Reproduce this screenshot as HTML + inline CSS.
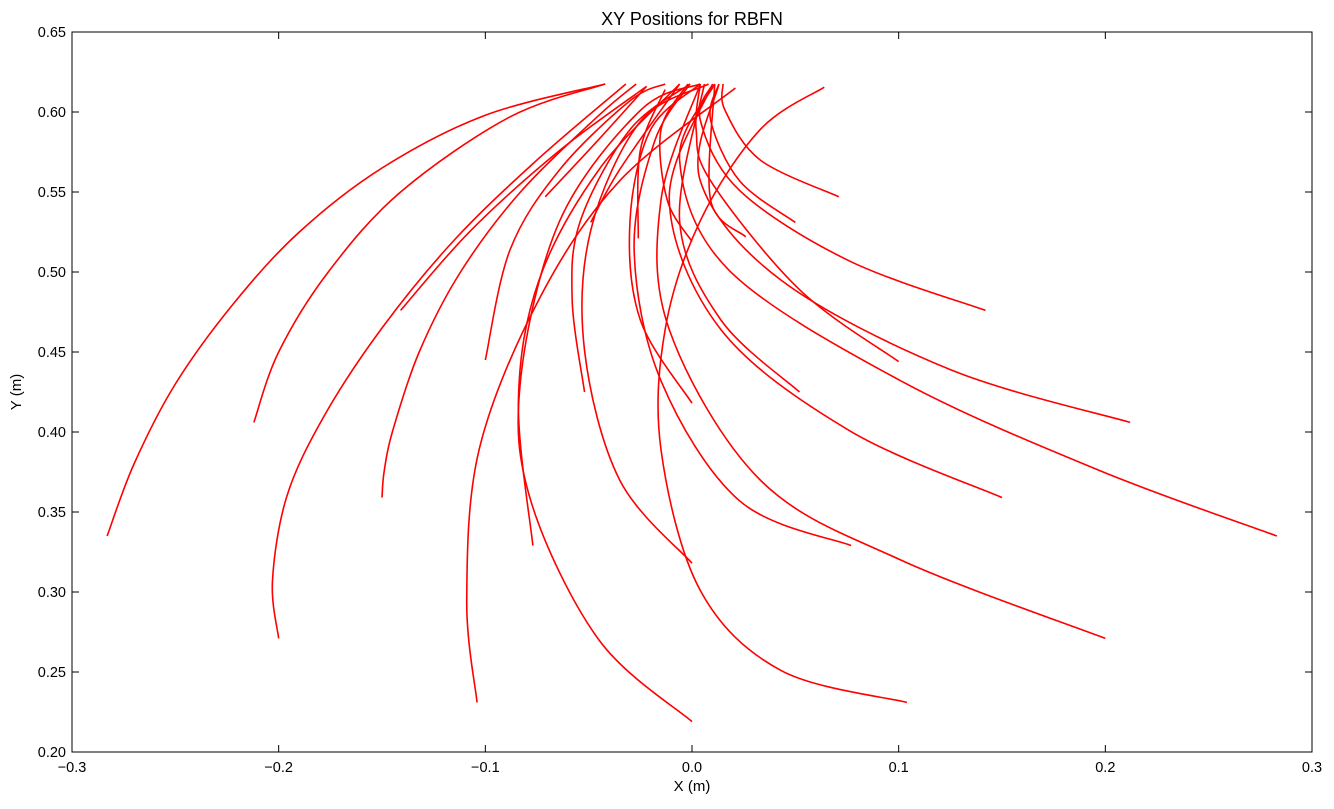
<!DOCTYPE html>
<html><head><meta charset="utf-8"><style>
body{margin:0;background:#fff;font-family:"Liberation Sans",sans-serif}
svg text{font-family:"Liberation Sans",sans-serif;fill:#000}
</style></head><body>
<svg id="chart" width="1334" height="804" xmlns="http://www.w3.org/2000/svg">
<text x="692" y="25" font-size="18" text-anchor="middle">XY Positions for RBFN</text>
<g id="lines"></g>
<rect x="72" y="32" width="1240" height="720" fill="none" stroke="#000" stroke-width="1"/>
<g id="axes"></g>
<text x="692" y="791" font-size="15" text-anchor="middle">X (m)</text>
<text transform="translate(21,392) rotate(-90)" font-size="15" text-anchor="middle">Y (m)</text>
</svg>
<script>
const xTicks=[-0.3,-0.2,-0.1,0.0,0.1,0.2,0.3];
const xTickLabels=["−0.3","−0.2","−0.1","0.0","0.1","0.2","0.3"];
const yTicks=[0.20,0.25,0.30,0.35,0.40,0.45,0.50,0.55,0.60,0.65];
const yTickLabels=["0.20","0.25","0.30","0.35","0.40","0.45","0.50","0.55","0.60","0.65"];
const traj1=[[-0.283,0.335],[-0.27,0.38],[-0.25,0.43],[-0.222,0.48],[-0.19,0.525],[-0.15,0.565],[-0.1,0.598],[-0.042,0.6175]];
const traj2=[[-0.212,0.406],[-0.2,0.45],[-0.176,0.5],[-0.141,0.55],[-0.088,0.597],[-0.042,0.6175]];
const traj3=[[-0.200,0.271],[-0.203,0.307],[-0.196,0.36],[-0.178,0.41],[-0.150,0.465],[-0.115,0.52],[-0.075,0.57],[-0.032,0.6175]];
const traj4=[[-0.150,0.359],[-0.149,0.375],[-0.145,0.40],[-0.132,0.45],[-0.112,0.5],[-0.083,0.55],[-0.045,0.598],[-0.027,0.6175]];
const traj5=[[-0.141,0.476],[-0.107,0.526],[-0.064,0.576],[-0.022,0.616]];
const traj6=[[-0.100,0.445],[-0.088,0.514],[-0.064,0.564],[-0.030,0.607],[-0.013,0.6175]];
const traj7=[[-0.071,0.547],[-0.045,0.583],[-0.022,0.616]];
const traj8=[[-0.104,0.231],[-0.109,0.295],[-0.103,0.389],[-0.074,0.483],[-0.035,0.557],[0.021,0.615]];
const traj9=[[-0.077,0.329],[-0.084,0.420],[-0.074,0.495],[-0.045,0.564],[-0.006,0.6175]];
const traj10=[[0.000,0.219],[-0.045,0.270],[-0.078,0.357],[-0.083,0.432],[-0.064,0.532],[-0.025,0.601],[0.004,0.6175]];
const traj11=[[-0.052,0.425],[-0.058,0.483],[-0.054,0.532],[-0.030,0.589],[-0.001,0.6175]];
const traj12=[[0.000,0.318],[-0.035,0.370],[-0.052,0.451],[-0.049,0.526],[-0.025,0.594],[0.008,0.6175]];
const traj13=[[-0.049,0.531],[-0.035,0.564],[-0.006,0.6175]];
const traj14=[[0.000,0.418],[-0.025,0.470],[-0.030,0.532],[-0.020,0.589],[0.004,0.6175]];
const traj15=[[0.000,0.519],[-0.012,0.545],[-0.015,0.589],[-0.002,0.6175]];
const traj16=[[-0.026,0.521],[-0.025,0.576],[-0.013,0.614]];
const traj17=[[0.077,0.329],[0.023,0.357],[-0.015,0.432],[-0.028,0.514],[-0.018,0.582],[-0.001,0.6175]];
const traj18=[[0.104,0.231],[0.043,0.251],[0.004,0.301],[-0.015,0.389],[-0.013,0.464],[0.004,0.532],[0.033,0.589],[0.064,0.6155]];
const traj19=[[0.200,0.271],[0.101,0.320],[0.033,0.370],[-0.011,0.464],[-0.015,0.545],[0.004,0.6175]];
const traj20=[[0.150,0.359],[0.076,0.401],[0.014,0.464],[-0.011,0.545],[0.010,0.6175]];
const traj21=[[0.283,0.335],[0.197,0.376],[0.101,0.432],[0.018,0.501],[-0.006,0.570],[0.011,0.6175]];
const traj22=[[0.212,0.406],[0.125,0.439],[0.043,0.495],[0.004,0.557],[0.013,0.6175]];
const traj23=[[0.052,0.425],[0.014,0.470],[-0.006,0.532],[0.006,0.6175]];
const traj24=[[0.100,0.444],[0.052,0.489],[0.009,0.557],[0.002,0.589],[0.004,0.6175]];
const traj25=[[0.142,0.476],[0.076,0.507],[0.023,0.551],[0.004,0.595],[0.010,0.6175]];
const traj26=[[0.026,0.522],[0.009,0.545],[0.011,0.6175]];
const traj27=[[0.050,0.531],[0.023,0.557],[0.009,0.595],[0.013,0.6175]];
const traj28=[[0.071,0.547],[0.033,0.570],[0.016,0.601],[0.015,0.6175]];
const trajectories=[traj1,traj2,traj3,traj4,traj5,traj6,traj7,traj8,traj9,traj10,traj11,traj12,traj13,traj14,traj15,traj16,traj17,traj18,traj19,traj20,traj21,traj22,traj23,traj24,traj25,traj26,traj27,traj28];

const NS="http://www.w3.org/2000/svg";
const X0=72,X1=1312,Y0=752,Y1=32;
function sx(v){return X0+(v+0.3)/0.6*(X1-X0);}
function sy(v){return Y0-(v-0.2)/0.45*(Y0-Y1);}
const axes=document.getElementById('axes');
xTicks.forEach((t,i)=>{
  const x=sx(t);
  const l=document.createElementNS(NS,'path');
  l.setAttribute('d',`M${x},${Y0}v-7M${x},${Y1}v7`);l.setAttribute('stroke','#000');
  
  
  axes.appendChild(l);
  const tx=document.createElementNS(NS,'text');
  tx.setAttribute('x',x);tx.setAttribute('y',772);tx.setAttribute('font-size','14.5');tx.setAttribute('text-anchor','middle');
  tx.textContent=xTickLabels[i];
  
  
  axes.appendChild(tx);
});
yTicks.forEach((t,i)=>{
  const y=sy(t);
  const l=document.createElementNS(NS,'path');
  l.setAttribute('d',`M${X0},${y}h7M${X1},${y}h-7`);l.setAttribute('stroke','#000');
  
  
  axes.appendChild(l);
  const tx=document.createElementNS(NS,'text');
  tx.setAttribute('x',66);tx.setAttribute('y',y+5);tx.setAttribute('font-size','14.5');tx.setAttribute('text-anchor','end');
  tx.textContent=yTickLabels[i];
  
  
  axes.appendChild(tx);
});
function smooth(pts){
  const p=pts.map(d=>[sx(d[0]),sy(d[1])]);
  let d=`M${p[0][0]},${p[0][1]}`;
  for(let i=0;i<p.length-1;i++){
    const a=p[i-1]||p[i],b=p[i],c=p[i+1],e=p[i+2]||c;
    d+=`C${b[0]+(c[0]-a[0])/6},${b[1]+(c[1]-a[1])/6} ${c[0]-(e[0]-b[0])/6},${c[1]-(e[1]-b[1])/6} ${c[0]},${c[1]}`;
  }
  return d;
}
const g=document.getElementById('lines');
trajectories.forEach((tr,i)=>{
  const p=document.createElementNS(NS,'path');
  p.setAttribute('d',smooth(tr));
  p.setAttribute('fill','none');p.setAttribute('stroke','#f00');p.setAttribute('stroke-width','1.6');
  p.setAttribute('stroke-linejoin','round');
  
  
  g.appendChild(p);
});
</script>
</body></html>
